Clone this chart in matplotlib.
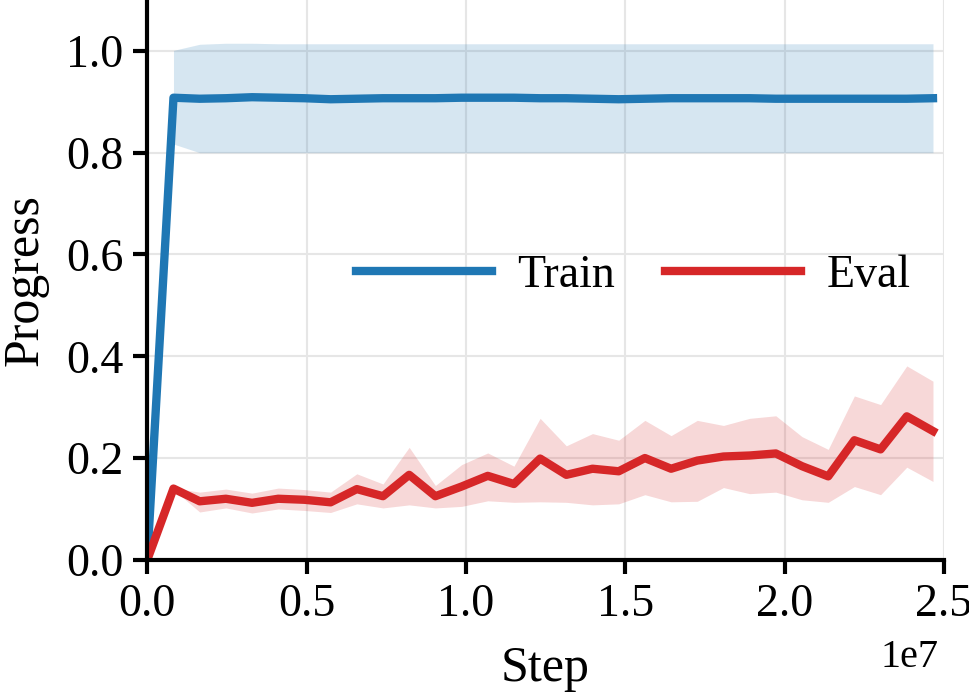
import numpy as np
import matplotlib
matplotlib.use('Agg')
import matplotlib.pyplot as plt

plt.rcParams['font.family'] = ['Liberation Serif', 'DejaVu Serif']

# data
step_size = 822000
n_points = 31
steps = np.arange(n_points) * step_size

train_mean = [0.0, 0.908, 0.906, 0.907, 0.909, 0.908, 0.907, 0.905, 0.906, 0.907,
              0.907, 0.907, 0.908, 0.908, 0.908, 0.907, 0.907, 0.906, 0.905, 0.906,
              0.907, 0.907, 0.907, 0.907, 0.906, 0.906, 0.906, 0.906, 0.906, 0.906, 0.907]
train_upper = [0.0, 1.001, 1.013, 1.015, 1.015, 1.014, 1.014, 1.014, 1.014, 1.014,
               1.014, 1.014, 1.014, 1.014, 1.014, 1.014, 1.014, 1.014, 1.014, 1.014,
               1.014, 1.014, 1.014, 1.014, 1.014, 1.014, 1.014, 1.014, 1.014, 1.014, 1.014]
train_lower = [0.0, 0.817, 0.800, 0.800, 0.800, 0.800, 0.800, 0.800, 0.800, 0.800,
               0.800, 0.800, 0.800, 0.800, 0.800, 0.800, 0.800, 0.800, 0.800, 0.800,
               0.800, 0.800, 0.800, 0.800, 0.800, 0.800, 0.800, 0.800, 0.800, 0.800, 0.800]

eval_mean = [0.0, 0.140, 0.115, 0.120, 0.112, 0.120, 0.118, 0.113, 0.139, 0.125,
             0.167, 0.125, 0.144, 0.165, 0.149, 0.199, 0.167, 0.179, 0.174, 0.200,
             0.179, 0.195, 0.203, 0.205, 0.209, 0.184, 0.164, 0.235, 0.217, 0.282, 0.253]
eval_upper = [0.0, 0.141, 0.133, 0.139, 0.131, 0.141, 0.138, 0.133, 0.169, 0.149,
              0.221, 0.146, 0.187, 0.210, 0.184, 0.278, 0.224, 0.248, 0.235, 0.274,
              0.244, 0.274, 0.264, 0.278, 0.283, 0.242, 0.217, 0.322, 0.305, 0.381, 0.351]
eval_lower = [0.0, 0.138, 0.094, 0.102, 0.092, 0.100, 0.097, 0.093, 0.110, 0.102,
              0.108, 0.102, 0.105, 0.116, 0.113, 0.114, 0.113, 0.108, 0.110, 0.128,
              0.114, 0.115, 0.142, 0.130, 0.133, 0.118, 0.113, 0.144, 0.128, 0.182, 0.154]

blue = '#1f77b4'
red = '#d62728'

fig = plt.figure(figsize=(9.69, 6.92), dpi=100)
ax = fig.add_axes([0.152, 0.191, 0.822, 0.809])

ax.grid(True, color='#e6e6e6', linewidth=1.5, zorder=0)
ax.set_axisbelow(True)

ax.fill_between(steps[1:], train_lower[1:], train_upper[1:], color=blue, alpha=0.18, linewidth=0)
ax.fill_between(steps[1:], eval_lower[1:], eval_upper[1:], color=red, alpha=0.18, linewidth=0)
ax.plot(steps, train_mean, color=blue, linewidth=6, label='Train')
ax.plot(steps, eval_mean, color=red, linewidth=6, label='Eval')

ax.set_xlim(0, 2.5e7)
ax.set_ylim(0, 1.1)
ax.set_yticks([0.0, 0.2, 0.4, 0.6, 0.8, 1.0])
ax.set_xticks([0, 0.5e7, 1.0e7, 1.5e7, 2.0e7, 2.5e7])

for side in ['top', 'right']:
    ax.spines[side].set_visible(False)
for side in ['left', 'bottom']:
    ax.spines[side].set_linewidth(3)

ax.tick_params(axis='both', labelsize=33, width=3, length=10, direction='out', pad=7)

# scale factor drawn by hand so it sits where the reference has it
ax.xaxis.get_offset_text().set_visible(False)
fig.text(0.969, 0.05, '1e7', fontsize=29, ha='right', va='center')

ax.set_xlabel('Step', fontsize=36, labelpad=14)
ax.set_ylabel('Progress', fontsize=36)
ax.yaxis.set_label_coords(-0.124, 0.5)

ax.legend(loc='center', bbox_to_anchor=(0.61, 0.507), ncol=2, frameon=False,
          fontsize=33, handlelength=2.97, handletextpad=0.55, columnspacing=1.1)

fig.savefig('out.png', dpi=100)
